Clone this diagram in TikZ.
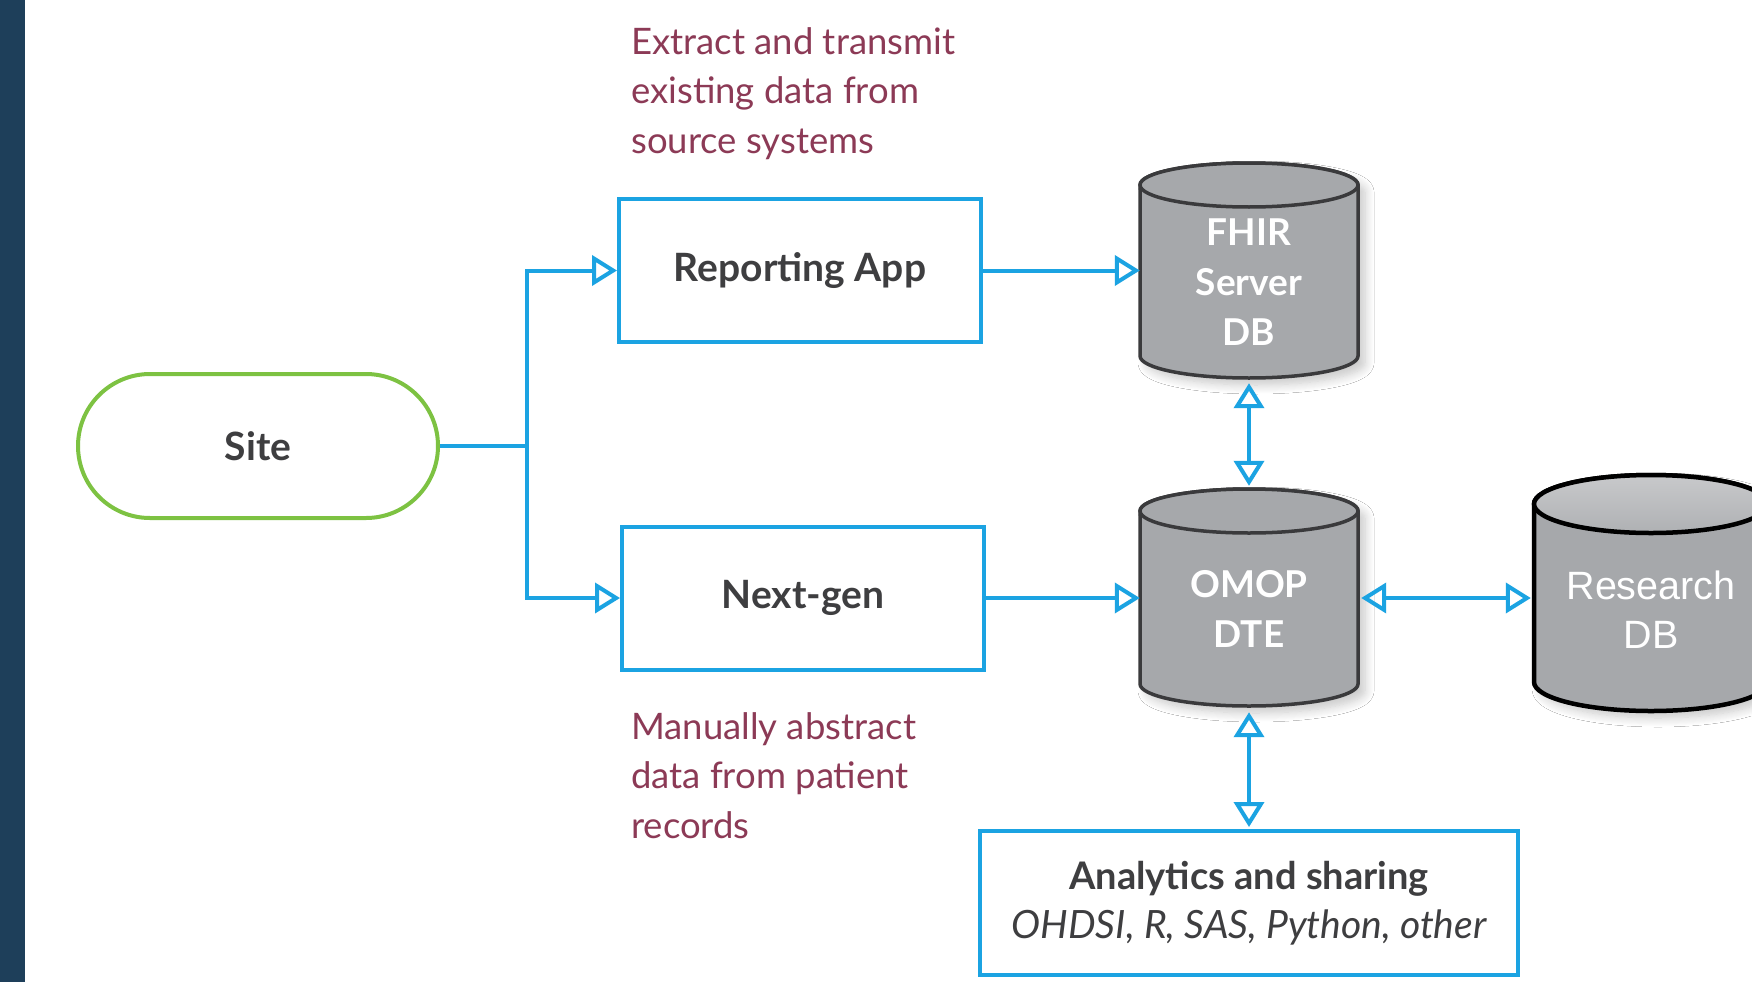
\documentclass[tikz,border=0pt]{standalone}
\usepackage{fontspec}
\setmainfont{Lato}
\newfontfamily\arialfont{Liberation Sans}
\usetikzlibrary{arrows.meta,shadows.blur}

\definecolor{flowblue}{RGB}{27,163,226}
\definecolor{sitegreen}{RGB}{125,194,66}
\definecolor{notered}{RGB}{140,58,86}
\definecolor{labelgray}{RGB}{62,62,64}
\definecolor{dbbody}{RGB}{166,168,171}
\definecolor{dbtop}{RGB}{200,201,203}
\definecolor{dbline}{RGB}{58,58,60}
\definecolor{sidebar}{RGB}{30,63,90}

% cylinder outline: centre x, top-ellipse centre y, bottom-ellipse centre y, half width, half height of ellipse
\newcommand\cylpath[5]{(#1-#4,#2) -- (#1-#4,#3)
  arc[start angle=180,end angle=360,x radius=#4pt,y radius=#5pt] -- (#1+#4,#2)
  arc[start angle=0,end angle=180,x radius=#4pt,y radius=#5pt] -- cycle}

\tikzset{
  opentip/.tip={Triangle[open,length=25pt,width=30pt,line width=4pt]},
  flow/.style={draw=flowblue, line width=4pt, -opentip},
  bothflow/.style={draw=flowblue, line width=4pt, opentip-opentip},
  plainflow/.style={draw=flowblue, line width=4pt},
  procbox/.style={draw=flowblue, line width=4pt, fill=white, inner sep=0pt,
    minimum width=362pt, minimum height=143pt, text=labelgray,
    font=\bfseries\fontsize{39}{50}\selectfont, align=center},
  sitebox/.style={draw=sitegreen, line width=4pt, fill=white, inner sep=0pt,
    rounded corners=72pt, minimum width=360pt, minimum height=144pt, text=labelgray,
    font=\bfseries\fontsize{39}{50}\selectfont},
  cylframe/.style={inner sep=0pt, minimum width=218pt},
  cyltext/.style={text=white, align=center, font=\bfseries\fontsize{37}{50}\selectfont},
  note/.style={anchor=north west, align=left, text=notered, inner sep=0pt,
    font=\fontsize{36.5}{49.5}\selectfont},
  cylshadow/.style={blur shadow={shadow xshift=7pt, shadow yshift=-7pt,
    shadow opacity=22, shadow blur steps=10, shadow blur radius=9pt}},
}

\begin{document}
\begin{tikzpicture}[x=1pt,y=-1pt]
\useasboundingbox (0,0) rectangle (1752,982);
\fill[white] (0,0) rectangle (1752,982);
\fill[sidebar] (0,0) rectangle (25,982);

% database cylinders
\path[cylshadow, fill=dbbody] \cylpath{1249}{185}{356}{109}{22};
\draw[dbline, line width=3.5pt, fill=dbbody] \cylpath{1249}{185}{356}{109}{22};
\draw[dbline, line width=3.5pt, fill=dbbody] (1249,185) ellipse[x radius=109pt, y radius=22pt];
\node[cylframe, minimum height=215pt] (fhir) at (1249,270.5) {};
\node[cyltext] (fhirtext) at (1249,282) {FHIR\\Server\\DB};

\path[cylshadow, fill=dbbody] \cylpath{1249}{511}{684}{109}{22};
\draw[dbline, line width=3.5pt, fill=dbbody] \cylpath{1249}{511}{684}{109}{22};
\draw[dbline, line width=3.5pt, fill=dbbody] (1249,511) ellipse[x radius=109pt, y radius=22pt];
\node[cylframe, minimum height=217pt] (omop) at (1249,597.5) {};
\node[cyltext] (omoptext) at (1249,609) {OMOP\\DTE};

\path[cylshadow, fill=dbbody] \cylpath{1651}{504}{682}{117}{29};
\draw[black, line width=4.5pt, fill=dbbody] \cylpath{1651}{504}{682}{117}{29};
\draw[black, line width=4.5pt, top color=dbtop, bottom color=dbbody!90] (1651,504) ellipse[x radius=117pt, y radius=29pt];
\node[cylframe, minimum width=234pt, minimum height=236pt] (research) at (1651,593) {};
\node[cyltext, font=\arialfont\fontsize{39.5}{49}\selectfont] (researchtext) at (1651,610) {Research\\DB};

% process boxes
\node[sitebox] (site) at (258,446) {Site};
\node[procbox] (report) at (800,270.5) {Reporting App};
\node[procbox] (nextgen) at (803,598) {Next-gen};
\node[procbox, minimum width=538pt, minimum height=144pt,
  font=\bfseries\fontsize{38}{50}\selectfont] (analytics) at (1249,903)
  {Analytics and sharing\\[-1pt]{\mdseries\itshape\fontsize{39}{50}\selectfont OHDSI, R, SAS, Python, other}};

% notes
\node[note] (extractnote) at (631,27) {Extract and transmit\\existing data from\\source systems};
\node[note] (manualnote) at (631,712) {Manually abstract\\data from patient\\records};

% connectors
\coordinate (split) at (527,446);
\draw[plainflow] (site.east) -- (split);
\draw[flow] (split) |- (report.west);
\draw[flow] (split) |- (nextgen.west);
\draw[flow] (report.east) -- (fhir.west |- report.east);
\draw[flow] (nextgen.east) -- (omop.west |- nextgen.east);
\draw[bothflow] ([yshift=-5pt]fhir.south) -- ([yshift=3pt]omop.north);
\draw[bothflow] ([xshift=3pt]omop.east |- nextgen.east) -- ([xshift=-3pt]research.west |- nextgen.east);
\draw[bothflow] ([yshift=-6pt]omop.south) -- ([yshift=2pt]analytics.north);
\end{tikzpicture}
\end{document}
